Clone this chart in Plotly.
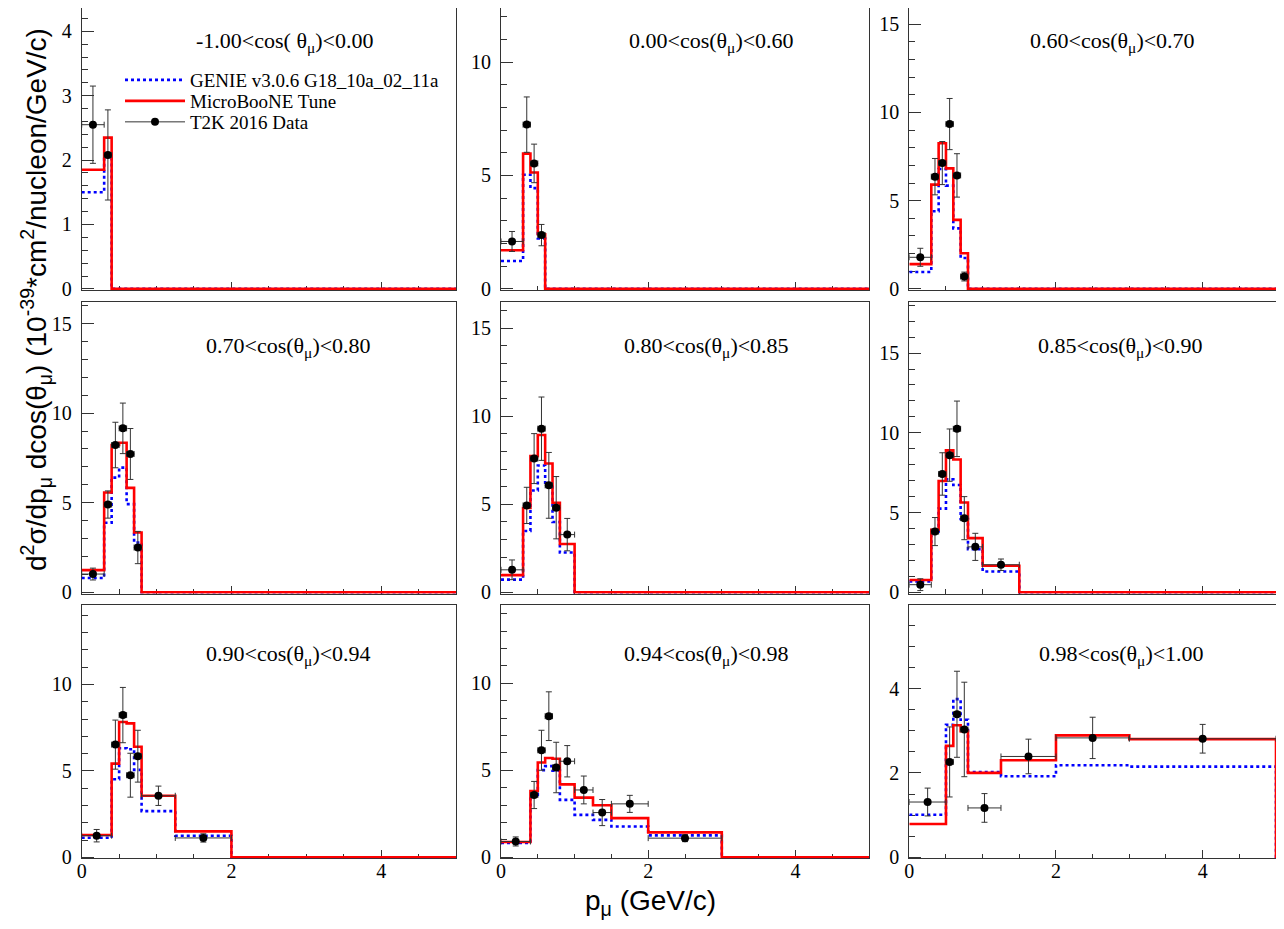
import plotly.graph_objects as go

W, H = 1284, 929
OFF = 8  # the page places the figure 8 px from the window's top-left corner

# ---------------- data ----------------
titles = [
    "-1.00<cos( θ<sub>μ</sub>)<0.00",
    "0.00<cos(θ<sub>μ</sub>)<0.60",
    "0.60<cos(θ<sub>μ</sub>)<0.70",
    "0.70<cos(θ<sub>μ</sub>)<0.80",
    "0.80<cos(θ<sub>μ</sub>)<0.85",
    "0.85<cos(θ<sub>μ</sub>)<0.90",
    "0.90<cos(θ<sub>μ</sub>)<0.94",
    "0.94<cos(θ<sub>μ</sub>)<0.98",
    "0.98<cos(θ<sub>μ</sub>)<1.00",
]

bin_edges = [
    [0, 0.3, 0.4, 30],
    [0, 0.3, 0.4, 0.5, 0.6, 30],
    [0, 0.3, 0.4, 0.5, 0.6, 0.7, 0.8, 30],
    [0, 0.3, 0.4, 0.5, 0.6, 0.7, 0.8, 30],
    [0, 0.3, 0.4, 0.5, 0.6, 0.7, 0.8, 1.0, 30],
    [0, 0.3, 0.4, 0.5, 0.6, 0.7, 0.8, 1.0, 1.5, 30],
    [0, 0.4, 0.5, 0.6, 0.7, 0.8, 1.25, 2.0, 30],
    [0, 0.4, 0.5, 0.6, 0.7, 0.8, 1.0, 1.25, 1.5, 2.0, 3.0, 30],
    [0, 0.5, 0.6, 0.7, 0.8, 1.25, 2.0, 3.0, 5.0, 30],
]

tune_vals = [
    [1.85, 2.35, 0],
    [1.70, 5.96, 5.13, 2.41, 0],
    [1.40, 5.91, 8.25, 6.83, 3.91, 2.02, 0],
    [1.24, 5.57, 8.22, 8.35, 5.83, 3.34, 0],
    [0.98, 4.79, 7.74, 8.94, 7.32, 5.09, 2.75, 0],
    [0.77, 3.92, 6.98, 8.90, 8.33, 5.63, 3.40, 1.67, 0],
    [1.29, 5.42, 7.83, 7.75, 6.40, 3.56, 1.50, 0],
    [0.88, 3.81, 5.45, 5.71, 5.66, 4.19, 3.43, 2.99, 2.25, 1.43, 0],
    [0.79, 2.64, 3.13, 2.99, 2.00, 2.30, 2.89, 2.80, 0],
]

genie_vals = [
    [1.50, 2.05, 0],
    [1.23, 5.03, 4.44, 2.22, 0],
    [0.96, 4.40, 6.79, 5.85, 3.43, 1.75, 0],
    [0.80, 3.88, 6.40, 6.96, 4.92, 2.78, 0],
    [0.72, 3.49, 5.79, 7.21, 6.00, 4.00, 2.26, 0],
    [0.69, 3.69, 5.25, 7.08, 6.73, 4.60, 2.71, 1.31, 0],
    [1.13, 4.52, 6.31, 6.25, 5.06, 2.67, 1.25, 0],
    [0.82, 3.58, 5.01, 5.24, 4.98, 3.30, 2.44, 2.15, 1.77, 1.26, 0],
    [1.01, 3.14, 3.75, 3.26, 2.02, 1.92, 2.18, 2.15, 0],
]

data_vals = [
    [2.55, 2.08],
    [2.09, 7.24, 5.53, 2.37],
    [1.79, 6.36, 7.13, 9.34, 6.43, 0.70],
    [1.02, 4.90, 8.22, 9.15, 7.72, 2.50],
    [1.28, 4.94, 7.60, 9.30, 6.08, 4.81, 3.28],
    [0.48, 3.81, 7.42, 8.60, 10.25, 4.65, 2.85, 1.73],
    [1.25, 6.52, 8.23, 4.75, 5.85, 3.56, 1.12],
    [0.91, 3.58, 6.15, 8.11, 5.16, 5.52, 3.87, 2.57, 3.07, 1.10],
    [1.31, 2.26, 3.39, 3.03, 1.17, 2.39, 2.83, 2.81],
]

data_errs = [
    [0.60, 0.70],
    [0.44, 1.22, 0.85, 0.47],
    [0.51, 1.03, 1.22, 1.45, 1.23, 0.25],
    [0.33, 0.76, 1.27, 1.41, 1.42, 0.90],
    [0.56, 1.03, 1.42, 1.80, 1.87, 1.77, 0.92],
    [0.37, 0.88, 1.33, 1.64, 1.74, 1.35, 0.85, 0.36],
    [0.36, 1.42, 1.60, 1.27, 1.50, 0.56, 0.24],
    [0.26, 0.78, 1.15, 1.40, 1.45, 0.90, 0.80, 0.75, 0.49, 0.20],
    [0.33, 0.83, 1.02, 1.12, 0.34, 0.41, 0.49, 0.34],
]

y_max = [4.44, 12.6, 16.2, 16.2, 16.5, 18.2, 14.6, 14.5, 5.98]
y_dtick = [1, 5, 5, 5, 5, 5, 5, 5, 2]
y_minor = [0.2, 1, 1, 1, 1, 1, 1, 1, 0.5]

legend_names = ["GENIE v3.0.6 G18_10a_02_11a", "MicroBooNE Tune", "T2K 2016 Data"]

# ---------------- layout geometry (window pixels) ----------------
col_px = [(81.7, 456.0), (501.0, 869.0), (909.3, 1276.0)]
row_px = [(3.0, 290.0), (302.0, 593.5), (605.0, 858.3)]
title_cx = [[284, 712, 1112], [288, 706, 1120], [288, 706, 1121]]
title_cy = [42, 347, 655]
legend_cy = [80, 101, 122]


def px(x):
    return min(max((x - OFF) / W, 0.0), 1.0)


def py(y):
    return min(max(1 - (y - OFF) / H, 0.0), 1.0)


SERIF = "Liberation Serif"
SANS = "Liberation Sans"
AX = "#333333"

fig = go.Figure()
layout = dict(
    template="none",
    width=W, height=H, autosize=False,
    margin=dict(l=0, r=0, t=0, b=0, pad=0),
    paper_bgcolor="white", plot_bgcolor="white",
    showlegend=True,
)
annotations = []

for i in range(9):
    r, c = divmod(i, 3)
    sfx = "" if i == 0 else str(i + 1)
    xa, ya = "x" + sfx, "y" + sfx
    e = bin_edges[i]
    g = genie_vals[i]
    t = tune_vals[i]
    fig.add_trace(go.Scatter(
        x=e, y=g + [g[-1]], mode="lines", xaxis=xa, yaxis=ya,
        line=dict(shape="hv", color="#0000ff", width=2.6, dash="dot"),
        name=legend_names[0], showlegend=(i == 0), legend="legend",
        hoverinfo="skip"))
    fig.add_trace(go.Scatter(
        x=e, y=t + [t[-1]], mode="lines", xaxis=xa, yaxis=ya,
        line=dict(shape="hv", color="#ff0000", width=2.6),
        name=legend_names[1], showlegend=(i == 0), legend="legend2",
        hoverinfo="skip"))
    n = len(data_vals[i])
    centers = [(e[k] + e[k + 1]) / 2 for k in range(n)]
    halfw = [(e[k + 1] - e[k]) / 2 for k in range(n)]
    fig.add_trace(go.Scatter(
        x=centers, y=data_vals[i], mode="markers", xaxis=xa, yaxis=ya,
        marker=dict(color="black", size=8, symbol="circle"),
        error_y=dict(type="data", array=data_errs[i], color=AX, thickness=1, width=3),
        error_x=dict(type="data", array=halfw, color=AX, thickness=1, width=3),
        name=legend_names[2], showlegend=False))

    x0, x1 = col_px[c]
    y0, y1 = row_px[r]
    # the window's top 8 px lie outside the figure: keep the same scale there
    y0_eff = max(y0, OFF)
    ym = y_max[i] * (y1 - y0_eff) / (y1 - y0)
    layout["xaxis" + sfx] = dict(
        domain=[px(x0), px(x1)], anchor=ya, range=[0, 5], automargin=False,
        tick0=0, dtick=2, ticks="inside", ticklen=8, tickwidth=1, tickcolor=AX,
        minor=dict(dtick=0.5, tick0=0, ticks="inside", ticklen=4.5, tickcolor=AX, tickwidth=1),
        showline=True, linecolor=AX, linewidth=1, mirror=True,
        showgrid=False, zeroline=False, showticklabels=(r == 2),
        ticklabelstandoff=-5,
        tickfont=dict(family=SERIF, size=20, color="black"),
        layer="below traces", fixedrange=True)
    layout["yaxis" + sfx] = dict(
        domain=[py(y1), py(y0_eff)], anchor=xa, range=[-ym * 0.004, ym],
        automargin=False,
        tick0=0, dtick=y_dtick[i], ticks="inside", ticklen=12, tickwidth=1, tickcolor=AX,
        minor=dict(dtick=y_minor[i], tick0=0, ticks="inside", ticklen=6, tickcolor=AX, tickwidth=1),
        showline=True, linecolor=AX, linewidth=1, mirror=True,
        showgrid=False, zeroline=False, ticklabelstandoff=5,
        tickfont=dict(family=SERIF, size=20, color="black"),
        layer="below traces", fixedrange=True)

    annotations.append(dict(
        text=titles[i], xref="paper", yref="paper",
        x=px(title_cx[r][c]), y=py(title_cy[r]),
        xanchor="center", yanchor="middle", showarrow=False,
        font=dict(family=SERIF, size=22, color="black")))

# legend proxy for the data entry (marker with error line)
fig.add_trace(go.Scatter(
    x=[None], y=[None], mode="lines+markers", xaxis="x", yaxis="y",
    line=dict(color=AX, width=1), marker=dict(color="black", size=8),
    name=legend_names[2], showlegend=True, legend="legend3"))

annotations.append(dict(
    text="d<sup>2</sup>σ/dp<sub>μ</sub> dcos(θ<sub>μ</sub>) (10<sup>-39</sup>*cm<sup>2</sup>/nucleon/GeV/c)",
    xref="paper", yref="paper", x=px(36), y=py(300), textangle=-90,
    xanchor="center", yanchor="middle", showarrow=False,
    font=dict(family=SANS, size=28, color="black")))
annotations.append(dict(
    text="p<sub>μ</sub> (GeV/c)", xref="paper", yref="paper",
    x=px(650), y=py(902), xanchor="center", yanchor="middle", showarrow=False,
    font=dict(family=SANS, size=28, color="black")))

layout["annotations"] = annotations
for k, key in enumerate(["legend", "legend2", "legend3"]):
    layout[key] = dict(
        x=px(120), y=py(legend_cy[k]), xanchor="left", yanchor="middle",
        xref="paper", yref="paper",
        bgcolor="rgba(0,0,0,0)", borderwidth=0, itemwidth=60,
        font=dict(family=SERIF, size=19, color="black"))

fig.update_layout(**layout)
fig.write_html("out.html")
